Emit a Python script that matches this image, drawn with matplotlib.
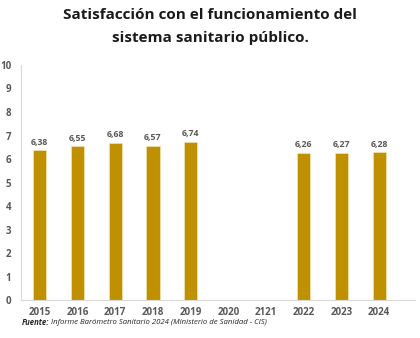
import matplotlib
matplotlib.use("Agg")
import matplotlib.pyplot as plt
import numpy as np

categories = ["2015", "2016", "2017", "2018", "2019", "2020", "2121", "2022", "2023", "2024"]
values = [6.38, 6.55, 6.68, 6.57, 6.74, None, None, 6.26, 6.27, 6.28]
yticks = list(range(0, 11))
title = "Satisfacción con el funcionamiento del\nsistema sanitario público."

plt.rcParams['font.family'] = ['Open Sans', 'DejaVu Sans']

fig = plt.figure(figsize=(4.2, 3.38), dpi=100)
ax = fig.add_axes([0.05, 0.1124, 0.938, 0.6953])

x = np.arange(len(categories))
for i, v in enumerate(values):
    if v is None:
        continue
    ax.bar(x[i], v, width=0.35, color="#BF9000", edgecolor="#F2E3B3", linewidth=0.5, zorder=2)
    ax.text(x[i], v + 0.15, f"{v:.2f}".replace(".", ","), ha="center", va="bottom",
            fontsize=6.3, fontweight="bold", color="#595959")

ax.set_xlim(-0.5, 9.95)
ax.set_ylim(0, 10)
ax.set_yticks(yticks)
ax.set_xticks(x)
ax.set_xticklabels(categories)
ax.tick_params(axis="both", length=0, labelsize=7, colors="#595959")
for lab in ax.get_xticklabels() + ax.get_yticklabels():
    lab.set_fontweight("bold")
ax.tick_params(axis="x", pad=5)
ax.tick_params(axis="y", pad=7)
for s in ["top", "right"]:
    ax.spines[s].set_visible(False)
for s in ["left", "bottom"]:
    ax.spines[s].set_color("#D9D9D9")
    ax.spines[s].set_linewidth(0.8)

fig.text(0.5, 0.975, title, ha="center", va="top", fontsize=11, fontweight="bold",
         color="#1a1a1a", linespacing=1.75)

t1 = fig.text(0.052, 0.045, "Fuente:", ha="left", va="center", fontsize=5.6, fontweight="bold",
              style="italic", color="#262626")
fig.canvas.draw()
ax.annotate(" Informe Barómetro Sanitario 2024 (Ministerio de Sanidad - CIS)",
            xy=(1, 0.5), xycoords=t1, ha="left", va="center", fontsize=5.6,
            style="italic", color="#262626", annotation_clip=False)

fig.savefig("out.png", dpi=100)
